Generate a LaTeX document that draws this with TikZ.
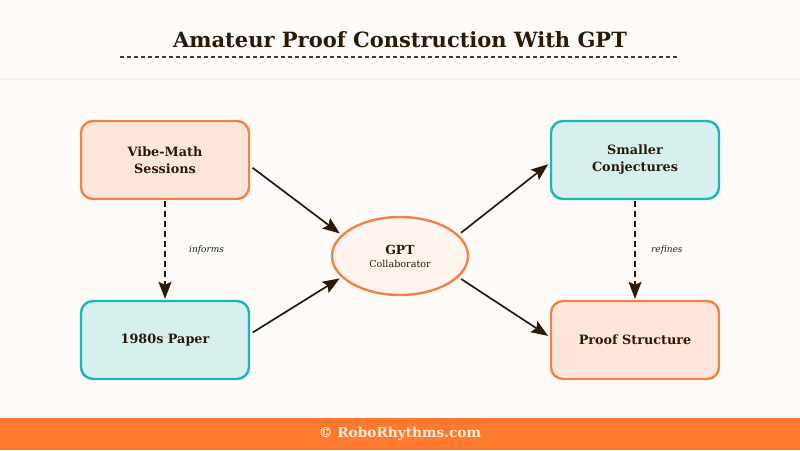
\documentclass[tikz,border=0pt]{standalone}
\usepackage{fontspec}
\setmainfont{DejaVu Serif}
\setsansfont{DejaVu Sans}
\usetikzlibrary{positioning,shapes.geometric,arrows.meta}
\definecolor{fundo}{HTML}{FFFBF9}
\definecolor{laranja}{HTML}{F08448}
\definecolor{laranjaclaro}{HTML}{FFE6DA}
\definecolor{verde}{HTML}{1DB6B6}
\definecolor{verdeclaro}{HTML}{D6F0EE}
\definecolor{marrom}{HTML}{2B1A0A}
\definecolor{rodape}{HTML}{FF7A2F}
\definecolor{creme}{HTML}{FFEBD6}
\begin{document}
\begin{tikzpicture}[x=1pt,y=-1pt, %Início do desenho, 1pt por pixel
	caixalaranja/.style={draw=laranja, line width=2.4pt, fill=laranjaclaro, rounded corners=12pt, minimum width=168pt, minimum height=78pt, align=center, text=marrom, font=\fontsize{12.8}{17}\selectfont\bfseries},
	caixaverde/.style={caixalaranja, draw=verde, fill=verdeclaro},
	seta/.style={-{Stealth[length=17pt,width=13pt,inset=3pt]}, line width=1.7pt, draw=marrom, shorten <=3pt, shorten >=2pt},
	rotulo/.style={font=\fontsize{9}{11}\selectfont\itshape, text=marrom}]
		%Fundo e cabeçalho
	\fill[fundo] (0,0) rectangle (800,450);
	\useasboundingbox (0,0) rectangle (800,450);
	\fill[black!6] (0,78) rectangle (800,80);
	\node[text=marrom, font=\fontsize{21}{25}\selectfont\bfseries] (titulo) at (400,40) {Amateur Proof Construction With GPT};
	\draw[marrom!85, line width=1.2pt, dash pattern=on 4pt off 3pt] (120,57) -- (678,57); %Linha tracejada
		%Rodapé
	\fill[rodape] (0,418) rectangle (800,450);
	\node[text=creme, font=\fontsize{13.7}{16}\selectfont\bfseries] (site) at (400,434) {© RoboRhythms.com};
		%Caixas
	\node[caixalaranja] (vibe) at (165,160) {Vibe-Math\\Sessions};
	\node[caixaverde] (artigo) at (165,340) {1980s Paper};
	\node[caixaverde] (conjecturas) at (635,160) {Smaller\\Conjectures};
	\node[caixalaranja] (prova) at (635,340) {Proof Structure};
	\node[ellipse, draw=laranja, line width=2.4pt, fill=laranjaclaro!45, minimum width=136pt, minimum height=78pt, align=center, text=marrom, inner sep=0pt] (gpt) at (400,256) {{\fontsize{12.5}{15}\selectfont\bfseries GPT}\\[1pt]{\fontsize{9.6}{11}\selectfont Collaborator}};
		%Setas
	\draw[seta] (vibe.-4) -- (gpt.160);
	\draw[seta] (artigo.4) -- (gpt.-160);
	\draw[seta] (gpt.20) -- (conjecturas.-178);
	\draw[seta] (gpt.-20) -- (prova.178);
	\draw[seta, dash pattern=on 6pt off 4pt, shorten <=1pt, shorten >=1pt] (vibe) -- node[rotulo, right=20pt]{informs} (artigo);
	\draw[seta, dash pattern=on 6pt off 4pt, shorten <=1pt, shorten >=1pt] (conjecturas) -- node[rotulo, right=12pt]{refines} (prova);
\end{tikzpicture}
\end{document}
